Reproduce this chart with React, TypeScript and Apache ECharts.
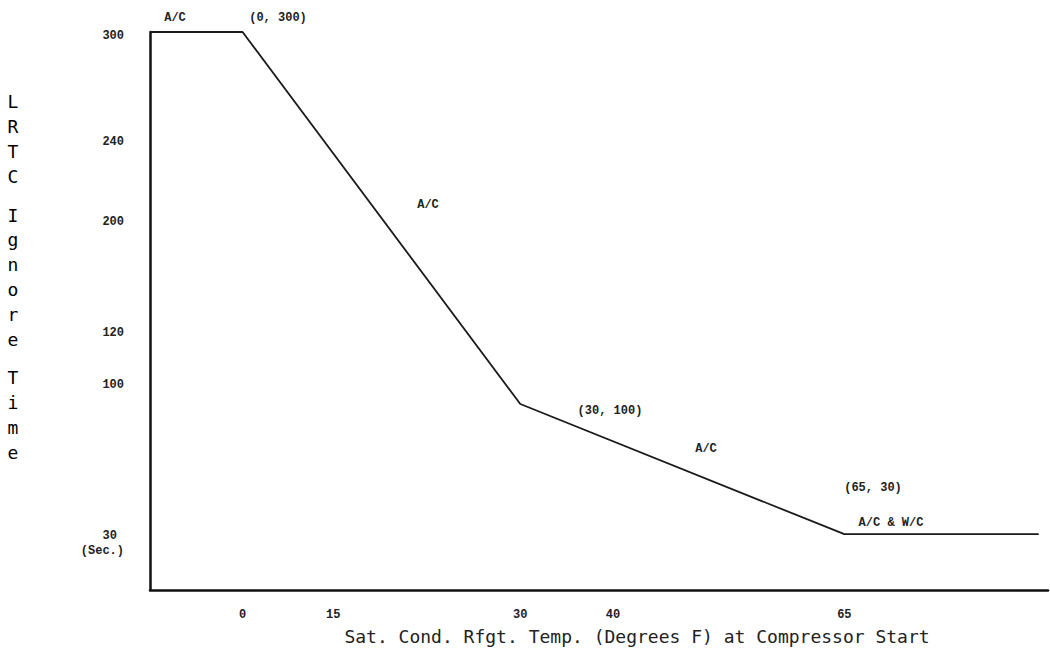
import React, { useEffect, useRef } from "react";
import * as echarts from "echarts";

// ---- data ----
const tempF = [-10, 0, 30, 65, 86];
const ignoreTime = [300, 300, 100, 30, 30];

// tick labels as printed on the (not-to-scale) original, with where they sit on the axis
const xTickLabels = ["0", "15", "30", "40", "65"];
const xTickAnchors = [0, 9.8, 30, 40, 65];
const yTickLabels = ["300", "240", "200", "120", "100", "30"];
const yTickAnchors = [298, 241, 198, 138, 110, 30];

const annotationTexts = ["A/C", "(0, 300)", "A/C", "(30, 100)", "A/C", "(65, 30)", "A/C & W/C"];

const xTitle = "Sat. Cond. Rfgt. Temp. (Degrees F) at Compressor Start";
const yTitle = "LRTC Ignore Time";

const MONO = "'Liberation Mono', 'DejaVu Sans Mono', monospace";
const SANSMONO = "'DejaVu Sans Mono', monospace";

export default function App() {
  const ref = useRef<HTMLDivElement>(null);
  useEffect(() => {
    if (!ref.current) return;
    const chart = echarts.init(ref.current, null, { renderer: "svg" });

    const yTitleText = yTitle
      .split("")
      .map((c) => (c === " " ? "{s| }" : `{l|${c}}`))
      .join("\n");

    // annotation pixel anchors (centre of text)
    const annPos = [
      [175, 18],
      [278, 18],
      [428, 205],
      [610, 411],
      [706, 449],
      [873, 488],
      [891, 523],
    ];

    const labelStyle = {
      fontFamily: MONO,
      fontSize: 12,
      fontWeight: "bold" as const,
      color: "#222",
    };

    chart.setOption({
      animation: false,
      backgroundColor: "#fff",
      grid: { left: 150, right: 2, top: 32, bottom: 70, containLabel: false },
      xAxis: {
        type: "value",
        min: -10,
        max: 87,
        axisLine: { show: true, onZero: false, lineStyle: { color: "#111", width: 2.5 } },
        axisTick: { show: false },
        splitLine: { show: false },
        axisLabel: {
          customValues: xTickAnchors,
          margin: 19,
          ...labelStyle,
          formatter: (v: number) => {
            const i = xTickAnchors.indexOf(v);
            return i >= 0 ? xTickLabels[i] : "";
          },
        },
      },
      yAxis: {
        type: "value",
        min: 0,
        max: 300,
        axisLine: { show: true, onZero: false, lineStyle: { color: "#111", width: 2.5 } },
        axisTick: { show: false },
        splitLine: { show: false },
        axisLabel: {
          customValues: yTickAnchors,
          margin: 26,
          ...labelStyle,
          formatter: (v: number) => {
            const i = yTickAnchors.indexOf(v);
            if (i < 0) return "";
            if (yTickLabels[i] === "30") return `{a|${yTickLabels[i]}}\n{b|(Sec.)}`;
            return yTickLabels[i];
          },
          rich: {
            a: { ...labelStyle, padding: [22, 7, 0, 0], align: "right" },
            b: { ...labelStyle, lineHeight: 18, align: "right" },
          },
        },
      },
      series: [
        {
          type: "line",
          data: tempF.map((x, i) => [x, ignoreTime[i]]),
          symbol: "none",
          lineStyle: { color: "#1a1a1a", width: 1.8 },
          z: 3,
        },
      ],
      graphic: [
        {
          type: "text",
          left: 6,
          top: 93,
          style: {
            text: yTitleText,
            rich: {
              l: { fontFamily: SANSMONO, fontSize: 18, lineHeight: 24.8, color: "#222", align: "center", width: 14 },
              s: { fontFamily: SANSMONO, fontSize: 10, lineHeight: 14, align: "center", width: 14 },
            },
          },
        },
        {
          type: "text",
          x: 637,
          y: 636,
          style: {
            text: xTitle,
            font: `18px ${SANSMONO}`,
            fill: "#222",
            align: "center",
            verticalAlign: "middle",
          },
        },
        ...annotationTexts.map((t, i) => ({
          type: "text",
          x: annPos[i][0],
          y: annPos[i][1],
          style: {
            text: t,
            fill: "#222",
            font: `bold 12px ${MONO}`,
            align: "center",
            verticalAlign: "middle",
          },
        })),
      ],
    });
    return () => chart.dispose();
  }, []);

  return (
    <div
      ref={ref}
      style={{ position: "absolute", left: 0, top: 0, width: 1050, height: 660 }}
    />
  );
}
